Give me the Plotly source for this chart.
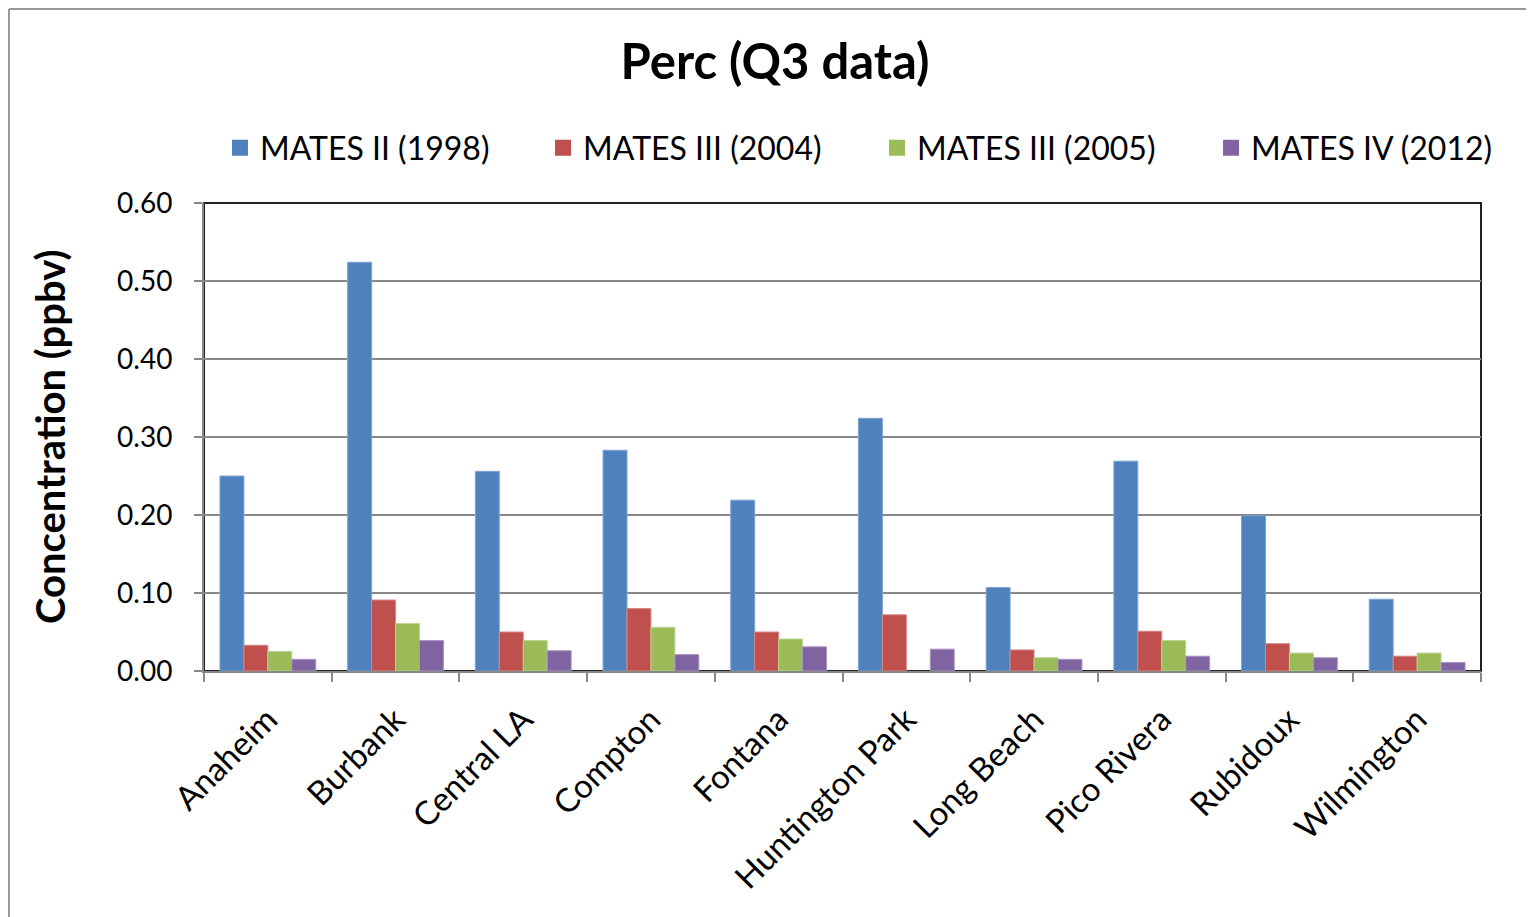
import plotly.graph_objects as go

sites = ["Anaheim", "Burbank", "Central LA", "Compton", "Fontana",
         "Huntington Park", "Long Beach", "Pico Rivera", "Rubidoux", "Wilmington"]
mates2_1998 = [0.250, 0.524, 0.256, 0.283, 0.219, 0.324, 0.107, 0.269, 0.199, 0.092]
mates3_2004 = [0.033, 0.091, 0.050, 0.080, 0.050, 0.072, 0.027, 0.051, 0.035, 0.019]
mates3_2005 = [0.025, 0.061, 0.039, 0.056, 0.041, None, 0.017, 0.039, 0.023, 0.023]
mates4_2012 = [0.015, 0.039, 0.026, 0.021, 0.031, 0.028, 0.015, 0.019, 0.017, 0.011]

series = [
    ("MATES II (1998)", mates2_1998, "#4F81BD", "#7FA3D3"),
    ("MATES III (2004)", mates3_2004, "#C0504D", "#D48784"),
    ("MATES III (2005)", mates3_2005, "#9BBB59", "#BCD38F"),
    ("MATES IV (2012)", mates4_2012, "#8064A2", "#A995C2"),
]

FONT = "Lato, 'Open Sans', sans-serif"
legend_names = ["legend", "legend2", "legend3", "legend4"]
legend_x = [0.0125, 0.2655, 0.527, 0.7886]

fig = go.Figure()
for (name, vals, col, edge), lg in zip(series, legend_names):
    fig.add_trace(go.Bar(x=sites, y=vals, name=name, showlegend=False,
                         marker=dict(color=col, line=dict(color=edge, width=1))))
    # legend entry with a larger square symbol
    fig.add_trace(go.Scatter(x=[None], y=[None], mode="markers", name=name, legend=lg,
                             marker=dict(symbol="square", size=20, color=col), showlegend=True))

legend_common = dict(orientation="h", y=1.1175, yanchor="middle", xanchor="left",
                     font=dict(size=32, family=FONT), itemwidth=30, bgcolor="rgba(0,0,0,0)")
layout_legends = {lg: dict(x=lx, **legend_common) for lg, lx in zip(legend_names, legend_x)}

fig.update_layout(
    width=1534, height=917,
    margin=dict(l=196, r=61, t=195, b=254, autoexpand=False),
    paper_bgcolor="white", plot_bgcolor="white",
    font=dict(family=FONT, color="black"),
    title=dict(text="<b>Perc (Q3 data)</b>", x=0.5, xanchor="center", y=0.941, yanchor="middle",
               font=dict(size=49, family=FONT)),
    barmode="group", bargap=0.25, bargroupgap=0,
    **layout_legends,
)
fig.update_yaxes(range=[0, 0.6], dtick=0.1, tickformat=".2f", showgrid=True, gridcolor="#888888", gridwidth=1.5,
                 showline=True, linecolor="#888888", linewidth=2, ticks="outside", ticklen=8,
                 tickcolor="#888888", tickwidth=2, tickfont=dict(size=28, family=FONT),
                 ticklabelstandoff=16, zeroline=False)
fig.update_xaxes(showline=True, linecolor="#888888", linewidth=2, ticks="outside", ticklen=9,
                 tickcolor="#888888", tickwidth=2, tickson="boundaries", tickangle=-45,
                 ticklabelstandoff=14, tickfont=dict(size=33, family=FONT))

fig.add_annotation(text="<b>Concentration (ppbv)</b>", xref="paper", yref="paper",
                   x=-0.1206, y=0.5, xanchor="center", yanchor="middle", textangle=-90,
                   showarrow=False, font=dict(size=40, family=FONT))

# plot-area border (top/right dark)
fig.add_shape(type="rect", xref="paper", yref="paper", x0=0, y0=0, x1=1, y1=1,
              line=dict(color="#222222", width=2), layer="below")
# outer chart border (left and top edges)
fig.add_shape(type="line", xref="paper", yref="paper", x0=-0.1527, y0=-1, x1=-0.1527, y1=1.4145,
              line=dict(color="#999999", width=2), layer="below")
fig.add_shape(type="line", xref="paper", yref="paper", x0=-0.1527, y0=1.4145, x1=2, y1=1.4145,
              line=dict(color="#999999", width=2), layer="below")

fig.write_html("out.html")
